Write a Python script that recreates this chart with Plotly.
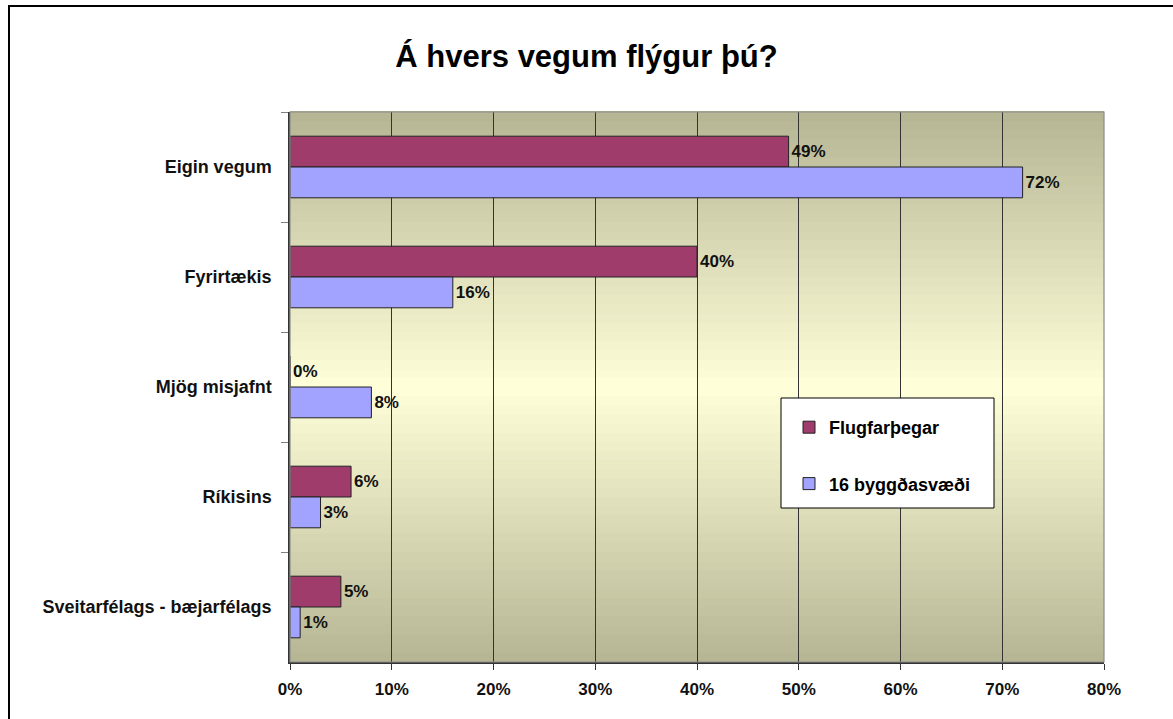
import plotly.graph_objects as go

categories = ["Eigin vegum", "Fyrirtækis", "Mjög misjafnt", "Ríkisins", "Sveitarfélags - bæjarfélags"]
flugfarthegar = [49, 40, 0, 6, 5]
byggdasvaedi = [72, 16, 8, 3, 1]
series_names = ["Flugfarþegar", "16 byggðasvæði"]
x_ticks = [0, 10, 20, 30, 40, 50, 60, 70, 80]
x_tick_labels = ["0%", "10%", "20%", "30%", "40%", "50%", "60%", "70%", "80%"]

FONT = "Arial, Liberation Sans, sans-serif"
W, H = 1173, 719
# target plot-area edges in window pixels
PL, PR, PT, PB = 290, 1104, 112, 662
L, T = PL, PT
R = W - PR
B = H - PB
PW, PH = PR - PL, PB - PT

def px_x(px):
    return (px - PL) / PW

def px_y(py):
    return (PB - py) / PH

fig = go.Figure()
for vals, name, color, grp in [(flugfarthegar, series_names[0], "#A03C6C", "a"),
                               (byggdasvaedi, series_names[1], "#A2A2FF", "b")]:
    fig.add_trace(go.Bar(
        y=categories, x=vals, name=name, orientation="h",
        marker=dict(color=color, line=dict(color="#222222", width=1)),
        text=[f"{v}%" for v in vals], texttemplate="%{text}",
        textposition="outside", cliponaxis=False,
        textfont=dict(family=FONT, size=17, color="#111111", weight="bold"),
        legendgroup=grp, hoverinfo="y+x",
    ))

shapes = []
# vertical gradient background of plot area
edge = (181, 181, 148)
mid = (255, 255, 217)
n = 60
for i in range(n):
    t0 = i / n
    t1 = (i + 1) / n
    tc = (t0 + t1) / 2
    f = 1 - abs(tc - 0.5) * 2
    c = tuple(round(edge[k] + (mid[k] - edge[k]) * f) for k in range(3))
    shapes.append(dict(type="rect", xref="paper", yref="paper", x0=0, x1=1,
                       y0=t0, y1=t1 + 0.002, fillcolor="rgb(%d,%d,%d)" % c,
                       line=dict(width=0), layer="below"))
# plot area border (gray)
shapes.append(dict(type="rect", xref="paper", yref="paper", x0=0, x1=1, y0=0, y1=1,
                   line=dict(color="#8c8c8c", width=1.2), layer="above"))
# outer chart frame
shapes.append(dict(type="rect", xref="paper", yref="paper",
                   x0=px_x(9), x1=px_x(1190), y0=px_y(740), y1=px_y(6),
                   line=dict(color="#000000", width=2)))
# legend box
shapes.append(dict(type="rect", xref="paper", yref="paper",
                   x0=px_x(781), x1=px_x(994), y0=px_y(508), y1=px_y(398),
                   fillcolor="#FFFFFF", line=dict(color="#000000", width=1), layer="above"))

fig.update_layout(
    shapes=shapes,
    width=W, height=H,
    margin=dict(l=L, r=R, t=T, b=B, pad=0),
    paper_bgcolor="#FFFFFF",
    plot_bgcolor="rgb(181,181,148)",
    barmode="group", bargap=0.44, bargroupgap=0,
    title=dict(text="Á hvers vegum flýgur þú?", x=0.5, xref="container", xanchor="center",
               y=1 - 56 / H, yref="container", yanchor="middle",
               font=dict(family=FONT, size=31, color="#000000", weight="bold")),
    font=dict(family=FONT, color="#000000"),
    showlegend=True,
    legend=dict(x=px_x(789), y=px_y(409), xanchor="left", yanchor="top",
                bgcolor="rgba(0,0,0,0)", borderwidth=0,
                traceorder="grouped", tracegroupgap=30,
                font=dict(family=FONT, size=18, color="#000000", weight="bold")),
    xaxis=dict(range=[0, 80], tickvals=x_ticks, ticktext=x_tick_labels,
               showgrid=True, gridcolor="#333333", gridwidth=1,
               zeroline=False, showline=True, linecolor="#333333", linewidth=1.5,
               ticks="outside", ticklen=6, tickcolor="#333333",
               tickfont=dict(family=FONT, size=17, color="#111111", weight="bold"),
               ticklabelstandoff=5,
               fixedrange=True),
    yaxis=dict(autorange="reversed", type="category",
               showgrid=False, zeroline=False, showline=True,
               linecolor="#333333", linewidth=1.5,
               ticks="outside", tickson="boundaries", ticklen=7, tickcolor="#808080",
               tickfont=dict(family=FONT, size=18, color="#111111", weight="bold"),
               ticklabelstandoff=13,
               fixedrange=True),
)

fig.write_html("out.html", config={"displayModeBar": False},
               post_script="document.body.style.margin='0px';document.body.style.overflow='hidden';")
